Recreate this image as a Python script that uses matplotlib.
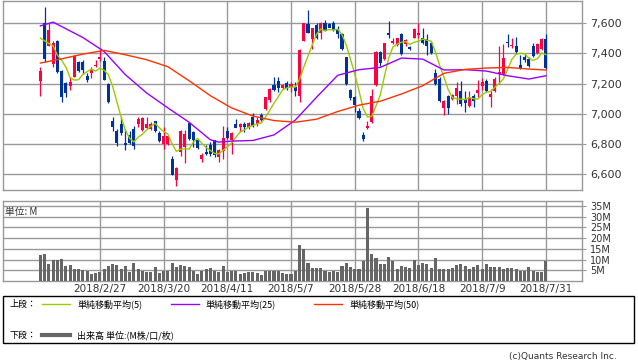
import numpy as np
import pandas as pd
import matplotlib
matplotlib.use('Agg')
import matplotlib.pyplot as plt
from matplotlib.lines import Line2D
from matplotlib.patches import Rectangle

# daily OHLC, 2018/2/6 .. 2018/7/31 (120 trading days)
opens = [7219, 7600, 7450, 7329, 7483, 7285, 7202, 7186, 7246, 7345,
         7345, 7252, 7268, 7314, 7362, 7351, 7197, 6955, 6883, 6929,
         6806, 6861, 6900, 6929, 6894, 6907, 6900, 6951, 6872, 6797,
         6797, 6700, 6559, 6746, 6779, 6938, 6878, 6823, 6702, 6746,
         6790, 6823, 6713, 6753, 6889, 6823, 6929, 6911, 6933, 6911,
         6977, 6933, 6995, 7032, 7089, 7191, 7217, 7169, 7202, 7180,
         7180, 7120, 7483, 7593, 7494, 7589, 7538, 7600, 7593, 7600,
         7560, 7527, 7373, 7158, 7114, 7021, 6857, 6907, 6944, 7191,
         7406, 7362, 7534, 7472, 7457, 7527, 7461, 7444, 7505, 7523,
         7501, 7494, 7472, 7268, 7230, 7039, 7120, 7098, 7120, 7149,
         7098, 7054, 7116, 7138, 7186, 7219, 7109, 7153, 7263, 7263,
         7477, 7450, 7450, 7325, 7378, 7362, 7450, 7400, 7428, 7494]
highs = [7311, 7708, 7600, 7483, 7487, 7290, 7208, 7241, 7389, 7350,
         7356, 7267, 7307, 7356, 7422, 7373, 7202, 6977, 6900, 6977,
         6900, 6889, 6922, 6977, 6977, 6977, 6944, 6955, 6889, 6911,
         6855, 6718, 6647, 6894, 6894, 6942, 6889, 6834, 6740, 6790,
         6812, 6823, 6765, 6918, 6911, 6878, 6966, 6938, 6944, 6944,
         7004, 6977, 7004, 7114, 7171, 7246, 7241, 7197, 7219, 7208,
         7208, 7428, 7604, 7688, 7571, 7604, 7611, 7622, 7604, 7615,
         7582, 7538, 7378, 7164, 7120, 7039, 6878, 6955, 7164, 7413,
         7413, 7472, 7615, 7501, 7505, 7532, 7494, 7450, 7571, 7604,
         7571, 7527, 7479, 7296, 7241, 7089, 7127, 7131, 7208, 7215,
         7153, 7153, 7131, 7224, 7237, 7230, 7164, 7241, 7450, 7461,
         7527, 7501, 7509, 7391, 7395, 7373, 7466, 7472, 7501, 7527]
lows = [7120, 7340, 7450, 7307, 7267, 7076, 7114, 7158, 7241, 7274,
        7263, 7213, 7237, 7307, 7347, 7226, 7070, 6885, 6788, 6860,
        6757, 6800, 6768, 6911, 6885, 6900, 6894, 6878, 6812, 6764,
        6790, 6592, 6522, 6720, 6676, 6823, 6779, 6768, 6680, 6724,
        6720, 6715, 6680, 6700, 6834, 6731, 6922, 6878, 6878, 6900,
        6911, 6922, 6955, 7026, 7080, 7153, 7142, 7164, 7160, 7147,
        7120, 7076, 7483, 7534, 7428, 7494, 7494, 7545, 7582, 7549,
        7505, 7422, 7193, 7089, 7010, 6966, 6819, 6900, 6938, 7186,
        7318, 7356, 7505, 7461, 7450, 7390, 7450, 7422, 7501, 7505,
        7461, 7386, 7395, 7193, 7076, 6989, 7000, 7090, 7065, 7054,
        7010, 7043, 7048, 7109, 7160, 7142, 7043, 7147, 7197, 7259,
        7439, 7435, 7395, 7296, 7340, 7307, 7378, 7395, 7422, 7296]
closes = [7285, 7362, 7556, 7466, 7274, 7114, 7136, 7208, 7384, 7285,
          7292, 7224, 7290, 7325, 7378, 7226, 7076, 6911, 6806, 6874,
          6793, 6806, 6786, 6964, 6971, 6933, 6929, 6885, 6819, 6850,
          6850, 6597, 6639, 6889, 6867, 6834, 6823, 6773, 6724, 6731,
          6735, 6724, 6757, 6841, 6841, 6872, 6905, 6933, 6911, 6938,
          6922, 6960, 6960, 7109, 7164, 7158, 7169, 7191, 7171, 7198,
          7153, 7424, 7600, 7538, 7567, 7501, 7600, 7549, 7571, 7554,
          7527, 7428, 7198, 7105, 7061, 6973, 6834, 6922, 7120, 7406,
          7334, 7468, 7523, 7483, 7501, 7395, 7488, 7428, 7560, 7532,
          7466, 7450, 7400, 7198, 7083, 7083, 7037, 7127, 7171, 7065,
          7070, 7109, 7083, 7160, 7213, 7149, 7131, 7230, 7279, 7369,
          7466, 7457, 7406, 7303, 7356, 7318, 7384, 7461, 7494, 7303]
# closes of the 4 days before the window
prev_closes = [7452, 7641, 7546, 7581]

# volume, millions
volume = [12.2, 12.8, 8.0, 9.6, 9.9, 10.3, 6.9, 7.3, 5.4, 5.7,
          5.2, 4.8, 3.1, 3.7, 4.0, 5.7, 7.1, 8.0, 7.3, 5.4,
          6.8, 4.2, 8.2, 5.4, 4.6, 4.0, 4.0, 6.3, 3.5, 4.8,
          4.8, 8.6, 6.3, 7.6, 7.1, 6.5, 4.8, 3.1, 4.8, 5.4,
          5.9, 4.8, 4.3, 6.8, 4.0, 4.5, 4.5, 3.1, 3.5, 4.0,
          4.0, 3.5, 2.6, 4.5, 4.5, 4.5, 4.5, 3.5, 3.1, 3.1,
          4.5, 16.8, 15.0, 8.2, 5.9, 5.9, 5.9, 4.8, 4.2, 4.8,
          4.2, 6.8, 8.6, 6.3, 5.6, 5.6, 9.1, 34.1, 12.8, 10.5,
          7.7, 7.7, 11.0, 9.1, 5.4, 6.8, 6.3, 5.9, 10.0, 7.3,
          8.2, 7.7, 5.9, 10.5, 5.4, 5.4, 5.4, 5.9, 7.3, 7.7,
          6.8, 5.4, 6.3, 7.3, 5.4, 7.7, 6.3, 6.3, 6.3, 5.4,
          5.9, 5.9, 5.4, 4.5, 4.5, 6.3, 4.5, 4.0, 4.0, 9.1]

# 25 and 50 day averages
ma25_idx = [0, 3, 5, 10, 15, 20, 25, 30, 35, 40, 42, 45, 50, 55, 60,
            65, 70, 75, 80, 85, 90, 95, 100, 105, 110, 115, 119]
ma25 = [7582, 7607, 7578, 7505, 7413, 7259, 7138, 7039, 6944, 6828, 6812,
        6819, 6823, 6860, 6958, 7109, 7255, 7292, 7307, 7369, 7362,
        7290, 7292, 7283, 7252, 7230, 7252]
ma50_idx = [0, 5, 10, 15, 20, 25, 30, 35, 40, 45, 50, 55, 60,
            65, 70, 75, 80, 85, 90, 95, 100, 105, 110, 115, 119]
ma50 = [7336, 7364, 7395, 7420, 7391, 7358, 7312, 7219, 7120, 7039,
        6985, 6955, 6944, 6964, 7015, 7057, 7083, 7131, 7186, 7268,
        7294, 7303, 7307, 7296, 7290]

tick_pos = [14, 29, 44, 59, 74, 89, 104, 119]
tick_labels = ['2018/2/27', '2018/3/20', '2018/4/11', '2018/5/7',
               '2018/5/28', '2018/6/18', '2018/7/9', '2018/7/31']

UP = '#ff0040'
DOWN = '#003399'
GRID = '#999999'
JP = ['Noto Sans CJK JP', 'DejaVu Sans']

o = np.array(opens)
h = np.array(highs)
l = np.array(lows)
c = np.array(closes)
x = np.arange(len(c))
ma5 = pd.Series(prev_closes + closes).rolling(5).mean().values[4:]

fig = plt.figure(figsize=(6.38, 3.62), dpi=100)
ax = fig.add_axes([3 / 638, 1 - 190 / 362, 579 / 638, 189 / 362])
axv = fig.add_axes([3 / 638, 1 - 281 / 362, 579 / 638, 80 / 362])

for a in (ax, axv):
    a.set_xlim(-8.8, 127.5)
    a.set_xticks(tick_pos)
    a.grid(True, color=GRID, lw=1, zorder=0)
    a.set_axisbelow(True)
    for s in a.spines.values():
        s.set_color(GRID)
        s.set_linewidth(1)
    a.yaxis.tick_right()
    a.tick_params(axis='y', direction='out', length=3, color=GRID, pad=3)
    a.tick_params(axis='x', length=0)

# candles
up = c >= o
cols = np.where(up, UP, DOWN)
ax.vlines(x, l, h, colors=cols, lw=0.9, zorder=2)
body = np.maximum(np.abs(c - o), 4)
ax.bar(x, body, bottom=np.minimum(o, c), width=0.72, color=cols, zorder=3)

ax.plot(x, ma5, color='#99cc00', lw=1, zorder=4)
ax.plot(ma25_idx, ma25, color='#9900ff', lw=1, zorder=4)
ax.plot(ma50_idx, ma50, color='#ff3300', lw=1, zorder=4)

ax.set_ylim(6495, 7747)
ax.set_yticks(range(6600, 7601, 200))
ax.set_yticklabels([f'{v:,}' for v in range(6600, 7601, 200)], fontsize=8, color='#333333')
ax.tick_params(axis='x', labelbottom=False)

# volume
axv.bar(x, volume, width=0.72, color='#666666', zorder=3)
axv.set_ylim(0, 37.3)
axv.set_yticks(range(5, 36, 5))
axv.set_yticklabels([f'{v}M' for v in range(5, 36, 5)], fontsize=7, color='#333333')
axv.set_xticklabels(tick_labels, fontsize=7.5, color='#333333')
axv.tick_params(axis='x', pad=2)
axv.text(0.003, 0.93, '単位: M', transform=axv.transAxes, fontsize=7,
         family=JP, va='top', ha='left', color='#333333')

# legend box
fig.add_artist(Rectangle((3 / 638, 1 - 343 / 362), 631 / 638, 47 / 362,
                         transform=fig.transFigure, fill=False, ec='black', lw=1))
y1 = 1 - 304 / 362
y2 = 1 - 335 / 362
fig.text(10 / 638, y1, '上段：', fontsize=6.5, family=JP, va='center')
fig.text(10 / 638, y2, '下段：', fontsize=6.5, family=JP, va='center')
entries = [(42, '#99cc00', '単純移動平均(5)'),
           (171, '#9900ff', '単純移動平均(25)'),
           (314, '#ff3300', '単純移動平均(50)')]
for px, col, lab in entries:
    fig.add_artist(Line2D([px / 638, (px + 28) / 638], [y1, y1],
                          transform=fig.transFigure, color=col, lw=1))
    fig.text((px + 35) / 638, y1, lab, fontsize=6.5, family=JP, va='center')
fig.add_artist(Line2D([42 / 638, 70 / 638], [y2, y2], transform=fig.transFigure,
                      color='#666666', lw=3))
fig.text(77 / 638, y2, '出来高 単位:(M株/口/枚)', fontsize=6.5, family=JP, va='center')

fig.text(617 / 638, 1 - 356 / 362, '(c)Quants Research Inc.', fontsize=6.5,
         ha='right', va='center', color='#333333')

fig.savefig('out.png', dpi=100)
